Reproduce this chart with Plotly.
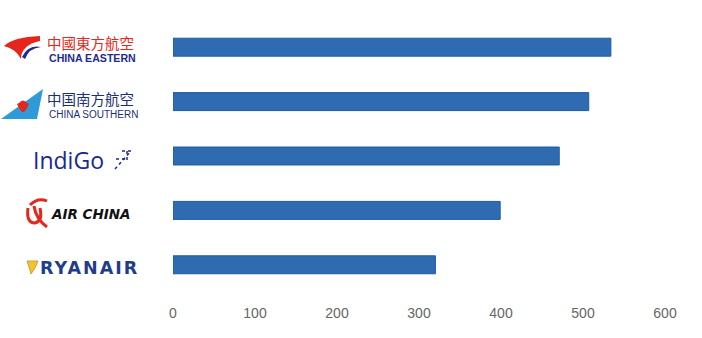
import plotly.graph_objects as go

airlines = ["China Eastern", "China Southern", "IndiGo", "Air China", "Ryanair"]
values = [534, 507, 471, 399, 320]
x_ticks = [0, 100, 200, 300, 400, 500, 600]

W, H = 702, 338
ML, MR, MT, MB = 173, 37, 20, 46
PW, PH = W - ML - MR, H - MT - MB


def px(x):
    return (x - ML) / PW


def py(y):
    return (H - MB - y) / PH


def path(cmds):
    out = []
    for c in cmds:
        if isinstance(c, str):
            out.append(c)
        else:
            out.append(f"{px(c[0]):.5f},{py(c[1]):.5f}")
    return " ".join(out)


fig = go.Figure()
fig.add_trace(go.Bar(
    x=values, y=airlines, orientation="h", width=0.33,
    marker=dict(color="#2E6BB1", line=dict(color="#1C5BA8", width=1)),
    hoverinfo="x+y",
))

navy = "#1B2F78"
ann = []
shapes = []

# China Eastern
shapes.append(dict(type="path", xref="paper", yref="paper", line=dict(width=0), fillcolor="#E4261C",
                   path=path(["M", (40, 36), "Q", (13, 37), (4, 46), "Q", (16, 49), (21, 59), "Q", (21, 45), (40, 41), "Z"])))
shapes.append(dict(type="path", xref="paper", yref="paper", line=dict(width=0), fillcolor="#1E2C8C",
                   path=path(["M", (22, 57), "Q", (28, 44), (41, 47), "Q", (29, 48), (25, 59), "Z"])))
ann.append(dict(x=px(46), y=py(42.5), text="中國東方航空",
                font=dict(family="Noto Sans CJK TC", size=14.5, color="#E4261C")))
ann.append(dict(x=px(48), y=py(58), text="<b>CHINA EASTERN</b>",
                font=dict(family="Liberation Sans", size=10.6, color="#1E2C8C")))

# China Southern
shapes.append(dict(type="path", xref="paper", yref="paper", line=dict(width=0), fillcolor="#2E9BD8",
                   path=path(["M", (43, 89), "L", (37, 119), "L", (1, 119), "Z"])))
shapes.append(dict(type="path", xref="paper", yref="paper", line=dict(width=0), fillcolor="#E4261C",
                   path=path(["M", (19, 103), "Q", (23, 98), (27, 103), "L", (29, 104), "Q", (27, 109), (24, 112),
                              "L", (22, 112), "Q", (19, 109), (17, 104), "Z"])))
ann.append(dict(x=px(46), y=py(99), text="中国南方航空",
                font=dict(family="Noto Sans CJK SC", size=14.5, color=navy)))
ann.append(dict(x=px(48), y=py(114), text="CHINA SOUTHERN",
                font=dict(family="Liberation Sans", size=10, color=navy)))

# IndiGo
ann.append(dict(x=px(32), y=py(160), text="IndiGo", font=dict(family="Open Sans", size=23, color="#1A2A8A")))
for seg in [((115, 169), (131, 151)), ((116, 159), (126, 159)), ((127, 151), (127, 163)), ((122, 151), (131, 151))]:
    shapes.append(dict(type="line", xref="paper", yref="paper", x0=px(seg[0][0]), y0=py(seg[0][1]),
                       x1=px(seg[1][0]), y1=py(seg[1][1]), line=dict(color="#1A2A8A", width=1.5, dash="dot")))

# Air China
shapes.append(dict(type="path", xref="paper", yref="paper", fillcolor="rgba(0,0,0,0)",
                   line=dict(color="#E4261C", width=3),
                   path=path(["M", (28, 208), "Q", (26, 223), (35, 223), "Q", (43, 221), (40, 208),
                              "M", (34, 206), "Q", (36, 219), (47, 227),
                              "M", (30, 205), "Q", (38, 197), (47, 201)])))
ann.append(dict(x=px(50), y=py(214), text="<b><i>AIR CHINA</i></b>",
                font=dict(family="DejaVu Sans", size=13.5, color="#111111")))

# Ryanair
shapes.append(dict(type="path", xref="paper", yref="paper", line=dict(color="#C9A23A", width=1), fillcolor="#F2C230",
                   path=path(["M", (27, 261), "L", (38, 261), "L", (35, 268), "L", (31, 274), "L", (29, 267), "Z"])))
ann.append(dict(x=px(39), y=py(268), text="<span style='letter-spacing:2px'><b>RYANAIR</b></span>",
                font=dict(family="DejaVu Sans", size=17.5, color="#1F3D8A")))

for a in ann:
    a.update(xref="paper", yref="paper", xanchor="left", yanchor="middle", showarrow=False, align="left",
             borderpad=0)

fig.update_layout(
    width=W, height=H,
    margin=dict(l=ML, r=MR, t=MT, b=MB),
    paper_bgcolor="white", plot_bgcolor="white",
    showlegend=False,
    annotations=ann, shapes=shapes,
    xaxis=dict(range=[0, 600], tickvals=x_ticks, showgrid=False, zeroline=False, showline=False,
               ticks="outside", ticklen=8, tickcolor="rgba(0,0,0,0)",
               tickfont=dict(family="Liberation Sans", size=14, color="#666666")),
    yaxis=dict(categoryorder="array", categoryarray=airlines, autorange="reversed",
               showticklabels=False, showgrid=False, zeroline=False, showline=False),
)

fig.write_html("out.html")
